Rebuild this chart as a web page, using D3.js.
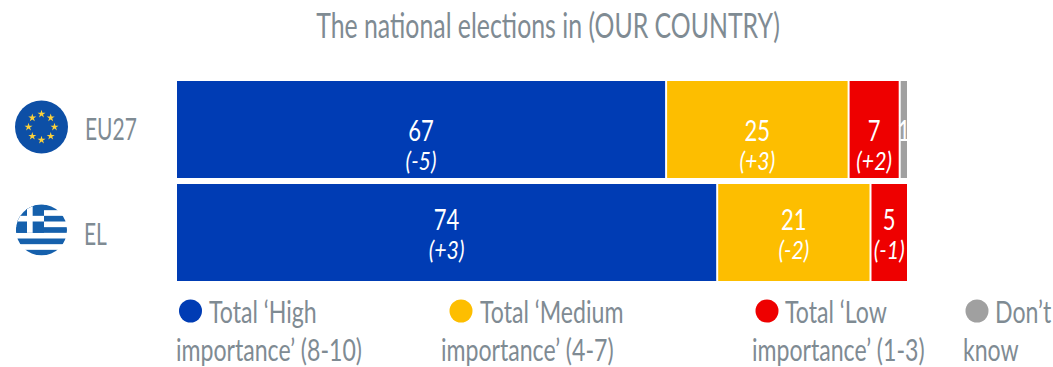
<!DOCTYPE html>
<html>
<head>
<meta charset="utf-8">
<script src="https://cdn.jsdelivr.net/npm/d3@7"></script>
<style>
    html, body { margin: 0; padding: 0; background: #fff; }
    svg { display: block; }
    text { font-family: Lato, "Open Sans", sans-serif; }
</style>
</head>
<body>
<div id="chart-area"></div>
<script>
const title = "The national elections in (OUR COUNTRY)";
const countries = ["EU27", "EL"];
const series = ["high", "medium", "low", "dontKnow"];
const colors = ["#003cb4", "#fdbe00", "#ee0000", "#a0a0a0"];
const high = [67, 74];
const medium = [25, 21];
const low = [7, 5];
const dontKnow = [1, 0];
const highDiff = ["(-5)", "(+3)"];
const mediumDiff = ["(+3)", "(-2)"];
const lowDiff = ["(+2)", "(-1)"];
const dontKnowDiff = ["", ""];
const legendLines = [
    ["Total ‘High", "importance’ (8-10)"],
    ["Total ‘Medium", "importance’ (4-7)"],
    ["Total ‘Low", "importance’ (1-3)"],
    ["Don’t", "know"]
];

const grey = "#7f8b93";
const width = 1053, height = 367;

const rows = countries.map((name, i) => ({
    name, high: high[i], medium: medium[i], low: low[i], dontKnow: dontKnow[i],
    diffs: [highDiff[i], mediumDiff[i], lowDiff[i], dontKnowDiff[i]], row: i
}));

const x = d3.scaleLinear().domain([0, 100]).range([177, 907]);
const y = d3.scaleBand().domain(countries).range([81, 281]).paddingInner(6 / 103);

const svg = d3.select("#chart-area").append("svg")
    .attr("width", width)
    .attr("height", height);

// no condensed font here, so narrow the text by hand
const place = (px, py, squeeze) => `translate(${px},${py}) scale(${squeeze},1)`;

svg.append("text")
    .attr("transform", place(548, 38, 0.71))
    .attr("text-anchor", "middle")
    .attr("font-size", 35)
    .attr("fill", grey)
    .text(title);

const layers = d3.stack().keys(series)(rows);
const left = d => x(d[0]) + (d[0] > 0 ? 1 : 0);
const right = d => x(d[1]) - (d[1] < 100 ? 1 : 0);
const valueY = [141, 230];
const diffY = [170, 259];

layers.forEach((layer, s) => {
    const g = svg.append("g").attr("class", "series");
    const cells = layer.filter(d => d[1] > d[0]);
    g.selectAll("rect").data(cells).enter().append("rect")
        .attr("x", left)
        .attr("y", d => y(d.data.name))
        .attr("width", d => right(d) - left(d))
        .attr("height", y.bandwidth())
        .attr("fill", colors[s]);
    g.selectAll(".value").data(cells).enter().append("text")
        .attr("class", "value")
        .attr("transform", d => place((left(d) + right(d)) / 2, valueY[d.data.row], 0.76))
        .attr("text-anchor", "middle")
        .attr("font-size", 29)
        .attr("fill", "#fff")
        .text(d => d[1] - d[0]);
    g.selectAll(".diff").data(cells).enter().append("text")
        .attr("class", "diff")
        .attr("transform", d => place((left(d) + right(d)) / 2, diffY[d.data.row], 0.82))
        .attr("text-anchor", "middle")
        .attr("font-size", 26)
        .attr("font-style", "italic")
        .attr("fill", "#fff")
        .text(d => d.data.diffs[s]);
});

// row labels
const labelX = [85, 84];
const labelY = [140, 245];
svg.selectAll(".row-label").data(countries).enter().append("text")
    .attr("class", "row-label")
    .attr("transform", (d, i) => place(labelX[i], labelY[i], 0.7))
    .attr("font-size", 30)
    .attr("fill", grey)
    .text(d => d);

// EU flag
const eu = svg.append("g").attr("transform", "translate(41.5,127)");
eu.append("circle").attr("r", 26.5).attr("fill", "#0d4fa6");
const star = d3.symbol().type(d3.symbolStar).size(20);
eu.selectAll("path").data(d3.range(8)).enter().append("path")
    .attr("d", star)
    .attr("fill", "#fcd13a")
    .attr("transform", d => {
        const a = d * Math.PI / 4;
        return `translate(${13 * Math.sin(a)},${-13 * Math.cos(a)})`;
    });

// Greek flag
const defs = svg.append("defs");
defs.append("clipPath").attr("id", "el-clip")
    .append("circle").attr("cx", 41.5).attr("cy", 230).attr("r", 25.5);
const el = svg.append("g").attr("clip-path", "url(#el-clip)");
const stripe = 51 / 9;
el.append("rect").attr("x", 16).attr("y", 204.5).attr("width", 51).attr("height", 51).attr("fill", "#fff");
el.selectAll(".stripe").data(d3.range(0, 9, 2)).enter().append("rect")
    .attr("class", "stripe")
    .attr("x", 16)
    .attr("y", d => 204.5 + d * stripe)
    .attr("width", 51)
    .attr("height", stripe)
    .attr("fill", "#1560ac");
el.append("rect").attr("x", 16).attr("y", 204.5).attr("width", 28).attr("height", stripe * 5).attr("fill", "#1560ac");
el.append("rect").attr("x", 16).attr("y", 204.5 + stripe * 2).attr("width", 28).attr("height", stripe).attr("fill", "#fff");
el.append("rect").attr("x", 27).attr("y", 204.5).attr("width", stripe).attr("height", stripe * 5).attr("fill", "#fff");

// legend
const dotX = [190.5, 461, 767, 977];
const textX = [209, 480, 785, 995];
const line2X = [176, 441, 752, 963];
const legend = svg.selectAll(".legend").data(legendLines).enter().append("g").attr("class", "legend");
legend.append("circle")
    .attr("cx", (d, i) => dotX[i])
    .attr("cy", 311)
    .attr("r", 11.5)
    .attr("fill", (d, i) => colors[i]);
legend.append("text")
    .attr("transform", (d, i) => place(textX[i], 323, 0.77))
    .attr("font-size", 30)
    .attr("fill", grey)
    .text(d => d[0]);
legend.append("text")
    .attr("transform", (d, i) => place(line2X[i], 361, 0.77))
    .attr("font-size", 30)
    .attr("fill", grey)
    .text(d => d[1]);
</script>
</body>
</html>
